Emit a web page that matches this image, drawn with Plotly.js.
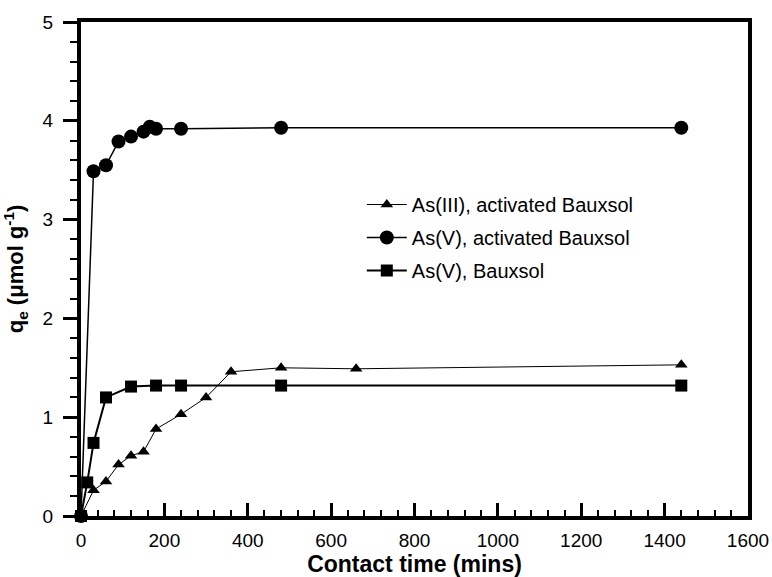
<!DOCTYPE html>
<html>
<head>
<meta charset="utf-8">
<script src="https://cdn.plot.ly/plotly-3.0.1.min.js"></script>
<style>html,body{margin:0;padding:0;background:#fff;}#chart{width:772px;height:577px;}</style>
</head>
<body>
<div id="chart"></div>
<script>
// Data
const timeAs3Act = [0, 30, 60, 90, 120, 150, 180, 240, 300, 360, 480, 660, 1440];
const qAs3Act    = [0, 0.26, 0.35, 0.52, 0.61, 0.65, 0.88, 1.03, 1.20, 1.46, 1.50, 1.49, 1.53];

const timeAs5Act = [0, 30, 60, 90, 120, 150, 165, 180, 240, 480, 1440];
const qAs5Act    = [0, 3.49, 3.55, 3.79, 3.84, 3.89, 3.94, 3.92, 3.92, 3.93, 3.93];

const timeAs5 = [0, 15, 30, 60, 120, 180, 240, 480, 1440];
const qAs5    = [0, 0.34, 0.74, 1.20, 1.31, 1.32, 1.32, 1.32, 1.32];

const seriesNames = ['As(III), activated Bauxsol', 'As(V), activated Bauxsol', 'As(V), Bauxsol'];

const FONT = 'Liberation Sans, Arial, Helvetica, sans-serif';

const traces = [
  {x: timeAs3Act, y: qAs3Act, name: seriesNames[0], legendgroup: 'a', mode: 'lines+markers', cliponaxis: false,
   line: {color: '#000', width: 1}, marker: {symbol: 'triangle-up', size: 11, color: '#000'}},
  {x: timeAs5Act, y: qAs5Act, name: seriesNames[1], legendgroup: 'b', mode: 'lines+markers', cliponaxis: false,
   line: {color: '#000', width: 1.5}, marker: {symbol: 'circle', size: 14, color: '#000'}},
  {x: timeAs5, y: qAs5, name: seriesNames[2], legendgroup: 'c', mode: 'lines+markers', cliponaxis: false,
   line: {color: '#000', width: 2}, marker: {symbol: 'square', size: 12, color: '#000'}}
];

const layout = {
  width: 772, height: 577,
  margin: {l: 81, r: 24, t: 22, b: 61},
  paper_bgcolor: '#fff', plot_bgcolor: '#fff',
  font: {family: FONT, color: '#000', size: 18},
  showlegend: true,
  legend: {x: 0.421, y: 0.67, xanchor: 'left', yanchor: 'top', bgcolor: 'rgba(0,0,0,0)',
           font: {family: FONT, size: 20, color: '#000'}, tracegroupgap: 4, traceorder: 'grouped', itemwidth: 40},
  xaxis: {
    range: [0, 1600], dtick: 200, tick0: 0,
    showline: true, linewidth: 4, linecolor: '#000', mirror: true,
    showgrid: false, zeroline: false,
    ticks: 'inside', ticklen: 13, tickwidth: 3, tickcolor: '#000',
    minor: {dtick: 40, ticks: 'inside', ticklen: 6, tickwidth: 2, tickcolor: '#000', showgrid: false},
    tickfont: {family: FONT, size: 19, color: '#000'},
    ticklabelstandoff: 4,
    title: {text: '<b>Contact time (mins)</b>', font: {family: FONT, size: 23, color: '#000'}, standoff: 2}
  },
  yaxis: {
    range: [0, 5], dtick: 1, tick0: 0,
    showline: true, linewidth: 4, linecolor: '#000', mirror: true,
    showgrid: false, zeroline: false,
    ticks: 'outside', ticklen: 14, tickwidth: 3, tickcolor: '#000',
    minor: {dtick: 0.2, ticks: 'outside', ticklen: 7, tickwidth: 2, tickcolor: '#000', showgrid: false},
    tickfont: {family: FONT, size: 19, color: '#000'},
    ticklabelstandoff: 6,
    title: {text: '<b>q<sub>e</sub> (μmol g<sup>-1</sup>)</b>', font: {family: FONT, size: 22, color: '#000'}, standoff: 20}
  }
};

Plotly.newPlot('chart', traces, layout, {displayModeBar: false, staticPlot: true});
</script>
</body>
</html>
